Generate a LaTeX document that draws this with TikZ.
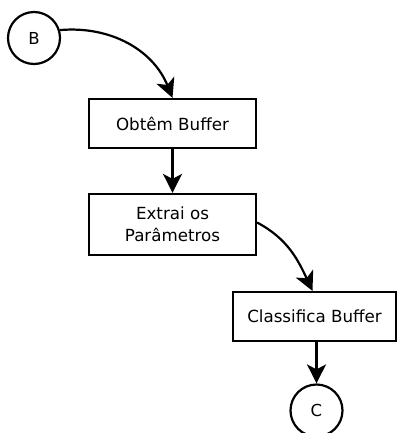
\documentclass[tikz,border=0pt]{standalone}
\usepackage{fontspec}
\setmainfont{DejaVu Sans}
\usetikzlibrary{arrows.meta}
\begin{document}
\begin{tikzpicture}[x=1pt,y=1pt, line width=2.2pt,
  procbox/.style={draw, rectangle, inner sep=0pt, align=center,
    font=\fontsize{16.7}{21.7}\selectfont},
  connector/.style={draw, circle, inner sep=0pt, minimum size=52pt,
    font=\fontsize{16.5}{18}\selectfont},
  flow/.style={-{Stealth[length=19pt,width=19pt,inset=5pt]}}]
  \clip (0,0) rectangle (397,-433);
  \fill[white] (0,0) rectangle (397,-433);

  \node[connector] (B) at (34,-38) {B};
  \node[procbox, minimum width=167pt, minimum height=49pt] (obt) at (172.5,-123.5) {Obtêm Buffer};
  \node[procbox, minimum width=167pt, minimum height=61pt] (ext) at (172.5,-224.5) {Extrai os\\Parâmetros};
  \node[procbox, minimum width=163pt, minimum height=49pt] (cls) at (314.5,-316.5) {Classifica Buffer};
  \node[connector] (C) at (316.5,-410.5) {C};

  \draw[flow] (B.17) to[out=5,in=112] (obt.north);
  \draw[flow] (obt) -- (ext);
  \draw[flow] ([yshift=2pt]ext.east) to[out=-28,in=115] ([xshift=-2pt]cls.north);
  \draw[flow] (C|-cls.south) -- (C);
\end{tikzpicture}
\end{document}
